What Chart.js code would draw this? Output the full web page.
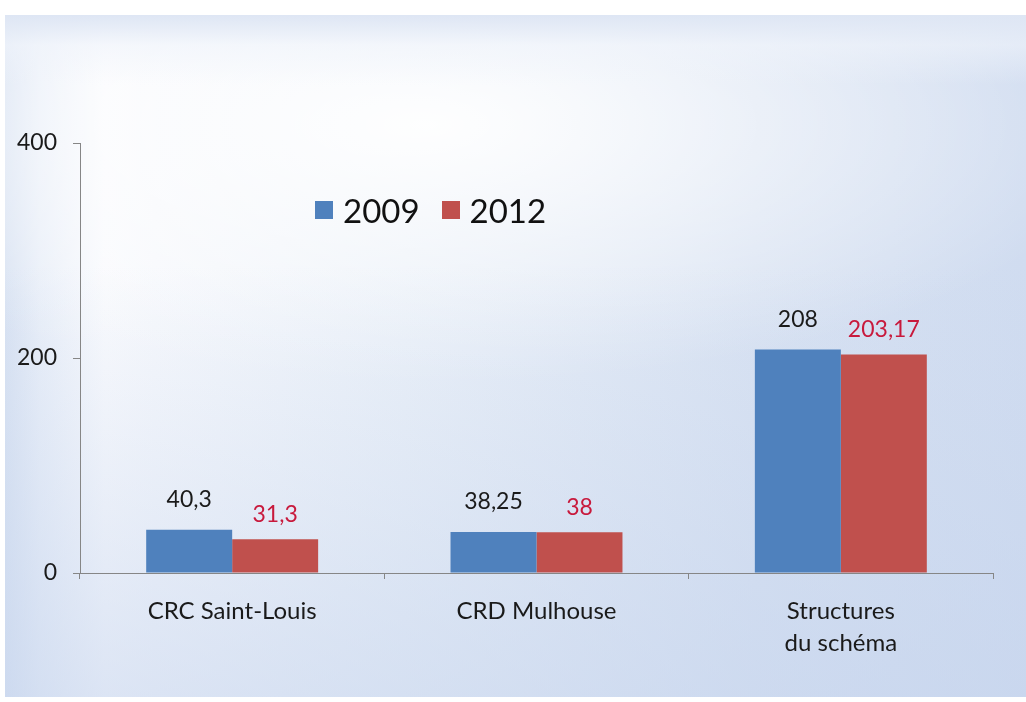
<!DOCTYPE html>
<html>
<head>
<meta charset="utf-8">
<script src="https://cdn.jsdelivr.net/npm/chart.js@4.4.1/dist/chart.umd.min.js"></script>
<style>
    html, body { margin: 0; padding: 0; background: #ffffff; }
    #wrap { position: relative; width: 1026px; height: 702px; overflow: hidden; }
    #panel {
        position: absolute; left: 5px; top: 15px; width: 1021px; height: 682px;
        background:
            linear-gradient(to bottom, rgba(222, 230, 244, 1) 0px, rgba(240, 244, 251, 0.6) 30px, rgba(255, 255, 255, 0) 70px),
            radial-gradient(ellipse 700px 260px at 420px 110px, rgba(255, 255, 255, 0.95) 0%, rgba(255, 255, 255, 0) 100%),
            linear-gradient(to right, #d8e2f2 0px, #e8eef8 35px, #f9fafd 100px, #f6f8fc 150px, #eaf0f8 400px, #d8e2f2 750px, #d0dcf0 1021px);
    }
    #panel::after {
        content: ""; position: absolute; left: 0; top: 0; right: 0; bottom: 0;
        background: linear-gradient(to bottom, rgba(200, 214, 238, 0) 0px, rgba(200, 214, 238, 0) 250px, rgba(196, 211, 237, 0.55) 682px);
    }
    #chart { position: absolute; left: 0; top: 0; }
    #legend {
        position: absolute; left: 315px; top: 192px; height: 36px;
        display: flex; align-items: center;
        font-family: Lato, "Open Sans", sans-serif; font-size: 33px; color: #111;
    }
    #legend .sq { width: 18px; height: 18px; margin-right: 10px; }
    #legend .item { display: flex; align-items: center; margin-right: 22px; }
</style>
</head>
<body>
<div id="wrap">
    <div id="panel"></div>
    <canvas id="chart" width="1026" height="702"></canvas>
    <div id="legend"></div>
</div>
<script>
const categories = ["CRC Saint-Louis", "CRD Mulhouse", ["Structures", "du schéma"]];
const values2009 = [40.3, 38.25, 208];
const values2012 = [31.3, 38, 203.17];
const seriesNames = ["2009", "2012"];
const yTicks = [0, 200, 400];

const blue = "#4f81bd";
const red = "#c0504d";
const fontFamily = "Lato, 'Open Sans', sans-serif";

// value labels above each bar, french decimal comma
const barLabels = {
    id: "barLabels",
    afterDatasetsDraw(chart) {
        var ctx = chart.ctx;
        ctx.save();
        ctx.font = "23px " + fontFamily;
        ctx.textAlign = "center";
        ctx.textBaseline = "middle";
        chart.data.datasets.forEach(function (ds, i) {
            var meta = chart.getDatasetMeta(i);
            ctx.fillStyle = ds.labelColor;
            meta.data.forEach(function (bar, j) {
                var txt = String(ds.data[j]).replace(".", ",");
                ctx.fillText(txt, bar.x, bar.y - ds.labelGap);
            });
        });
        ctx.restore();
    }
};

var legend = document.getElementById("legend");
[blue, red].forEach(function (c, i) {
    var item = document.createElement("div");
    item.className = "item";
    item.innerHTML = '<div class="sq" style="background:' + c + '"></div><span>' + seriesNames[i] + '</span>';
    legend.appendChild(item);
});

var ctx = document.getElementById("chart").getContext("2d");
new Chart(ctx, {
    type: "bar",
    data: {
        labels: categories,
        datasets: [
            { label: seriesNames[0], data: values2009, backgroundColor: blue, labelColor: "#1a1a1a", labelGap: 30 },
            { label: seriesNames[1], data: values2012, backgroundColor: red, labelColor: "#c8193c", labelGap: 25 }
        ]
    },
    options: {
        responsive: false,
        animation: false,
        layout: { padding: { top: 143, right: 33, bottom: 0, left: 0 } },
        plugins: { legend: { display: false }, tooltip: { enabled: false } },
        datasets: { bar: { categoryPercentage: 0.565, barPercentage: 1.0 } },
        scales: {
            x: {
                offset: true,
                grid: { offset: true, drawOnChartArea: false, tickLength: 6, color: "#868686" },
                border: { color: "#868686" },
                ticks: { color: "#1a1a1a", font: { family: fontFamily, size: 24, lineHeight: 1.35 }, padding: 16, maxRotation: 0 },
                afterFit: function (scale) { scale.height = 129; }
            },
            y: {
                min: 0,
                max: 400,
                afterBuildTicks: function (scale) { scale.ticks = yTicks.map(function (v) { return { value: v }; }); },
                grid: { drawOnChartArea: false, tickLength: 7, color: "#868686" },
                border: { color: "#868686" },
                ticks: { color: "#1a1a1a", font: { family: fontFamily, size: 23 }, padding: 16 },
                afterFit: function (scale) { scale.width = 80; }
            }
        }
    },
    plugins: [barLabels]
});
</script>
</body>
</html>
